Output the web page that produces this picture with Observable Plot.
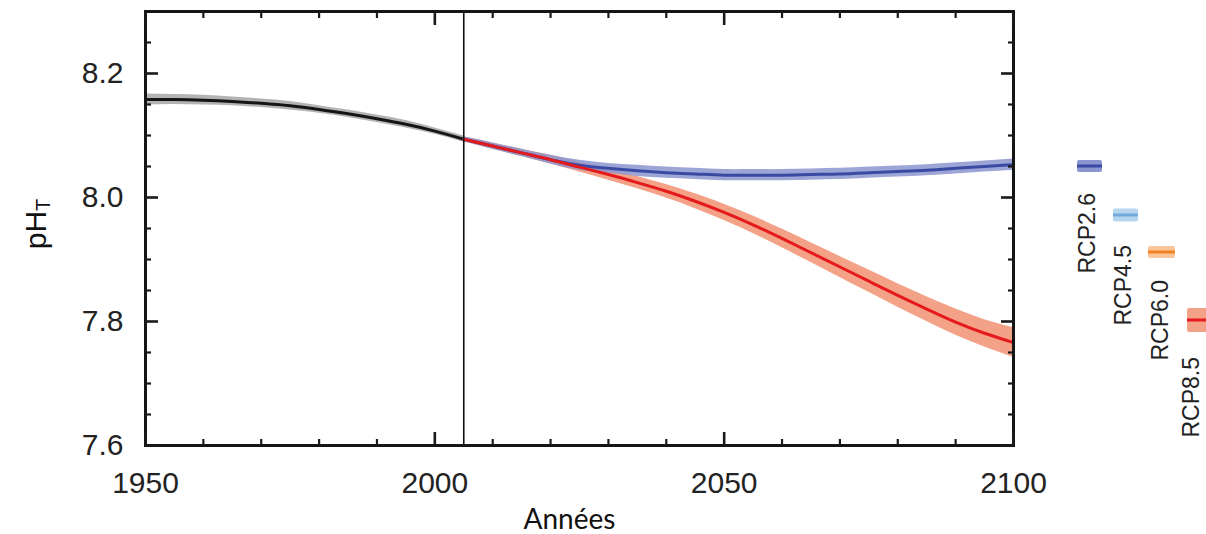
<!DOCTYPE html>
<html>
<head>
<meta charset="utf-8">
<script src="https://cdn.jsdelivr.net/npm/d3@7"></script>
<script src="https://cdn.jsdelivr.net/npm/@observablehq/plot@0.6"></script>
<style>
  html, body { margin: 0; padding: 0; background: #fff; }
  #chart { width: 1206px; height: 534px; overflow: hidden; }
</style>
</head>
<body>
<div id="chart"></div>
<script>
// ---- data ----
const histYears = [1950,1955,1960,1965,1970,1975,1980,1985,1990,1995,2000,2005];
const histPH    = [8.158,8.158,8.157,8.155,8.152,8.148,8.142,8.135,8.127,8.118,8.107,8.094];
const histSpread= [0.009,0.008,0.008,0.007,0.007,0.007,0.006,0.006,0.006,0.006,0.005,0.005];

const futYears  = [2005,2010,2015,2020,2025,2030,2035,2040,2045,2050,2055,2060,2065,2070,2075,2080,2085,2090,2095,2100];
const rcp26PH   = [8.094,8.083,8.072,8.061,8.052,8.047,8.043,8.040,8.038,8.036,8.036,8.036,8.037,8.038,8.040,8.042,8.044,8.047,8.050,8.053];
const rcp26Spread=[0.004,0.005,0.006,0.007,0.008,0.008,0.009,0.009,0.009,0.009,0.009,0.009,0.009,0.009,0.009,0.009,0.009,0.009,0.009,0.009];
const rcp85PH   = [8.094,8.083,8.072,8.061,8.049,8.037,8.024,8.010,7.994,7.976,7.956,7.934,7.911,7.888,7.865,7.842,7.820,7.799,7.781,7.766];
const rcp85Spread=[0.004,0.005,0.006,0.007,0.008,0.009,0.010,0.011,0.012,0.013,0.014,0.015,0.016,0.017,0.018,0.019,0.020,0.021,0.022,0.024];

const presentYear = [2005];

const xMajorTicks = [1950, 2000, 2050, 2100];
const xMinorTicks = [1960,1970,1980,1990,2010,2020,2030,2040,2060,2070,2080,2090];
const yMajorTicks = [7.6, 7.8, 8.0, 8.2];
const yMinorTicks = [7.65,7.7,7.75,7.85,7.9,7.95,8.05,8.1,8.15,8.25];

const legendNames = ["RCP2.6","RCP4.5","RCP6.0","RCP8.5"];
const legendLine  = ["#3a4aa3","#72aadd","#f3801f","#e41a1c"];
const legendBand  = ["#8b95cf","#b8d5f0","#fcc597","#f4a287"];

const xLabel = "Années";

// ---- tables ----
const hist = histYears.map((year, i) => ({year, ph: histPH[i], lo: histPH[i] - histSpread[i], hi: histPH[i] + histSpread[i]}));
const r26 = futYears.map((year, i) => ({year, ph: rcp26PH[i], lo: rcp26PH[i] - rcp26Spread[i], hi: rcp26PH[i] + rcp26Spread[i]}));
const r85 = futYears.map((year, i) => ({year, ph: rcp85PH[i], lo: rcp85PH[i] - rcp85Spread[i], hi: rcp85PH[i] + rcp85Spread[i]}));

const font = "'Liberation Sans', Arial, sans-serif";
const tickColor = "#1a1a1a";
const curve = "natural";

const tickAxes = [];
for (const [anchor, kind] of [["bottom","x"],["top","x"],["left","y"],["right","y"]]) {
  const axisFn = kind === "x" ? Plot.axisX : Plot.axisY;
  const major = kind === "x" ? xMajorTicks : yMajorTicks;
  const minor = kind === "x" ? xMinorTicks : yMinorTicks;
  tickAxes.push(axisFn({anchor, ticks: major, tickSize: -13, strokeWidth: 2.6, stroke: tickColor, fill: "none", label: null}));
  tickAxes.push(axisFn({anchor, ticks: minor, tickSize: -6, strokeWidth: 2.2, stroke: tickColor, fill: "none", label: null}));
}

const chart = Plot.plot({
  width: 1206,
  height: 534,
  marginLeft: 145,
  marginRight: 193,
  marginTop: 11,
  marginBottom: 89,
  style: {fontFamily: font, background: "white", overflow: "visible"},
  x: {domain: [1950, 2100]},
  y: {domain: [7.6, 8.3]},
  marks: [
    Plot.areaY(hist, {x: "year", y1: "lo", y2: "hi", fill: "#9a9a9a", fillOpacity: 0.75, curve}),
    Plot.areaY(r85, {x: "year", y1: "lo", y2: "hi", fill: legendBand[3], fillOpacity: 1, curve}),
    Plot.areaY(r26, {x: "year", y1: "lo", y2: "hi", fill: legendBand[0], fillOpacity: 0.85, curve}),
    Plot.lineY(hist, {x: "year", y: "ph", stroke: "#151515", strokeWidth: 3, curve}),
    Plot.lineY(r26, {x: "year", y: "ph", stroke: legendLine[0], strokeWidth: 3, curve}),
    Plot.lineY(r85, {x: "year", y: "ph", stroke: legendLine[3], strokeWidth: 3, curve}),
    Plot.ruleX(presentYear, {stroke: "#111", strokeWidth: 1.6}),
    Plot.frame({stroke: "#151515", strokeWidth: 3}),
    ...tickAxes,
    Plot.axisX({anchor: "bottom", ticks: xMajorTicks, tickSize: 0, tickPadding: 26, fontSize: 30, fill: "#222", label: null, tickFormat: d => String(d)}),
    Plot.axisY({anchor: "left", ticks: yMajorTicks, tickSize: 0, tickPadding: 22, fontSize: 30, fill: "#222", label: null, tickFormat: d => d.toFixed(1)}),
    Plot.text([xLabel], {frameAnchor: "bottom", dx: -10, dy: 83, fontSize: 28, fontFamily: "Lato, 'Open Sans', sans-serif", fill: "#111"})
  ]
});

document.getElementById("chart").appendChild(chart);

// ---- y-axis title with subscript, and the rotated legend ----
const svg = d3.select(chart);
const yt = svg.append("text")
  .attr("transform", "translate(35,224) rotate(-90)")
  .attr("text-anchor", "middle")
  .attr("dominant-baseline", "central")
  .attr("font-family", font)
  .attr("font-size", 30)
  .attr("fill", "#111");
yt.append("tspan").text("pH");
yt.append("tspan").attr("font-size", 20).attr("dy", 8).text("T");

const legendPos = [
  {sx: 1077, sy: 166, sw: 25, sh: 12, tx: 1087, ty: 193},
  {sx: 1113, sy: 215, sw: 25, sh: 13, tx: 1123, ty: 245},
  {sx: 1148, sy: 252, sw: 27, sh: 12, tx: 1160, ty: 280},
  {sx: 1187, sy: 320, sw: 25, sh: 24, tx: 1191, ty: 357}
];
legendNames.forEach((name, i) => {
  const p = legendPos[i];
  const g = svg.append("g");
  g.append("rect").attr("x", p.sx).attr("y", p.sy - p.sh / 2).attr("width", p.sw).attr("height", p.sh)
    .attr("rx", 2).attr("fill", legendBand[i]);
  g.append("line").attr("x1", p.sx).attr("x2", p.sx + p.sw).attr("y1", p.sy).attr("y2", p.sy)
    .attr("stroke", legendLine[i]).attr("stroke-width", 3);
  g.append("text")
    .attr("transform", `translate(${p.tx},${p.ty}) rotate(-90)`)
    .attr("text-anchor", "end")
    .attr("dominant-baseline", "central")
    .attr("font-family", font)
    .attr("font-size", 23)
    .attr("fill", "#222")
    .text(name);
});
</script>
</body>
</html>
